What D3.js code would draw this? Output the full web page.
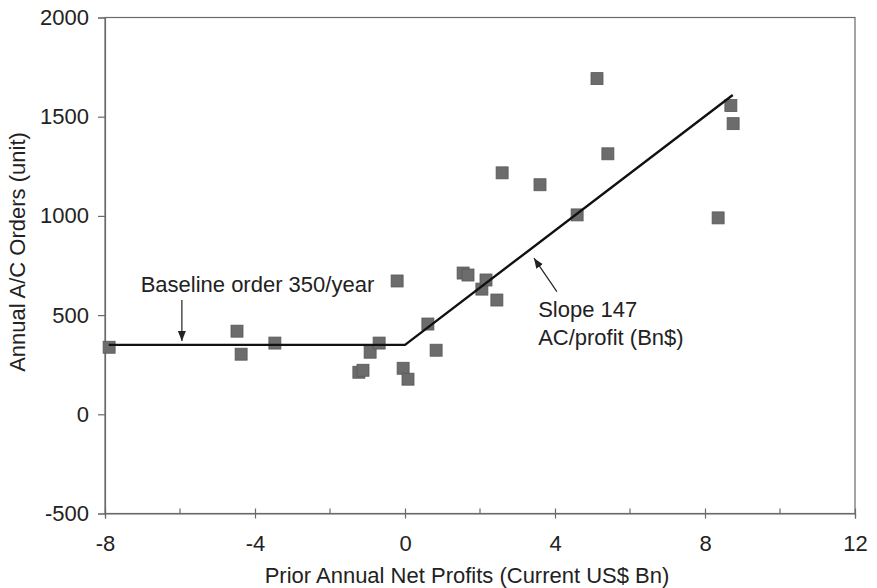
<!DOCTYPE html>
<html><head><meta charset="utf-8">
<script src="https://cdn.jsdelivr.net/npm/d3@7"></script>
<style>
html,body{margin:0;padding:0;background:#fff;}
svg{display:block;font-family:"Liberation Sans",Arial,sans-serif;}
</style></head>
<body>
<svg id="chart" width="877" height="588"></svg>
<script>
// ---- data ----
const profits = [-7.89,-4.48,-4.37,-3.47,-1.23,-1.12,-0.93,-0.69,-0.21,-0.05,0.08,0.61,0.83,1.55,1.68,2.05,2.16,2.45,2.59,3.6,4.59,5.12,5.41,8.35,8.69,8.75];
const orders  = [338,419,303,359,212,222,313,359,672,232,177,455,323,712,702,631,677,576,1217,1157,1005,1692,1313,990,1556,1465];
const fitX = [-7.9, 0, 8.74];
const fitY = [350, 350, 1609];
const xTicks = [-8,-4,0,4,8,12];
const xMinorTicks = [-6,-2,2,6,10];
const yTicks = [-500,0,500,1000,1500,2000];
const xLabel = "Prior Annual Net Profits (Current US$ Bn)";
const yLabel = "Annual A/C Orders (unit)";
const baselineNote = ["Baseline order 350/year"];
const baselineArrow = {x:[-5.95,-5.95], y:[576,369]};
const slopeNote = ["Slope 147","AC/profit (Bn$)"];
const slopeArrow = {x:[4.05,3.44], y:[618,787]};

// ---- layout ----
const mL=105,mR=855,mT=17.5,mB=513.5;
const svg=d3.select("#chart");
const x=d3.scaleLinear().domain([-8,12]).range([mL,mR]);
const y=d3.scaleLinear().domain([-500,2000]).range([mB,mT]);
const axisCol="#6a6a6a", textCol="#222";
const fs=22;
const ff="Liberation Sans, Arial, sans-serif";

svg.append("defs").append("marker")
  .attr("id","ah").attr("viewBox","0 0 10 10").attr("refX",10).attr("refY",5)
  .attr("markerWidth",10).attr("markerHeight",10).attr("markerUnits","userSpaceOnUse")
  .attr("orient","auto")
  .append("path").attr("d","M0,1 L10,5 L0,9 Z").attr("fill","#222");

// frame
svg.append("rect").attr("x",mL).attr("y",mT).attr("width",mR-mL).attr("height",mB-mT)
  .attr("fill","none").attr("stroke",axisCol).attr("stroke-width",1.2);

// y axis
const ya=svg.append("g").attr("transform",`translate(${mL},0)`)
  .call(d3.axisLeft(y).tickValues(yTicks).tickSize(7).tickPadding(9).tickFormat(d=>String(d)));
ya.select(".domain").attr("stroke",axisCol).attr("stroke-width",1.2);
ya.selectAll(".tick line").attr("stroke",axisCol).attr("stroke-width",1.2);
ya.selectAll("text").attr("font-size",fs).attr("fill",textCol).attr("font-family",ff);

// x axis
const xa=svg.append("g").attr("transform",`translate(0,${mB})`)
  .call(d3.axisBottom(x).tickValues(xTicks).tickSize(5).tickPadding(17).tickFormat(d=>String(d)));
xa.select(".domain").attr("stroke",axisCol).attr("stroke-width",1.2);
xa.selectAll(".tick line").attr("stroke",axisCol).attr("stroke-width",1.2).attr("y1",-5).attr("y2",5);
xa.selectAll("text").attr("font-size",fs).attr("fill",textCol).attr("font-family",ff);
svg.append("g").selectAll("line").data(xMinorTicks).join("line")
  .attr("x1",d=>x(d)).attr("x2",d=>x(d)).attr("y1",mB).attr("y2",mB-5)
  .attr("stroke",axisCol).attr("stroke-width",1.2);

// titles
svg.append("text").attr("x",467).attr("y",583).attr("text-anchor","middle")
  .attr("font-size",fs).attr("fill",textCol).text(xLabel);
svg.append("text").attr("transform",`translate(25,252) rotate(-90)`).attr("text-anchor","middle")
  .attr("font-size",fs).attr("fill",textCol).text(yLabel);

// points
const pts=profits.map((p,i)=>({x:p,y:orders[i]}));
const s=12;
svg.append("g").selectAll("rect").data(pts).join("rect")
  .attr("x",d=>x(d.x)-s/2).attr("y",d=>y(d.y)-s/2).attr("width",s).attr("height",s)
  .attr("fill","#6c6c6c").attr("stroke","#585858").attr("stroke-width",0.8);

// fit line
const fit=fitX.map((v,i)=>[v,fitY[i]]);
svg.append("path").datum(fit)
  .attr("d",d3.line().x(d=>x(d[0])).y(d=>y(d[1])))
  .attr("fill","none").attr("stroke","#111").attr("stroke-width",2.4);

// annotations
svg.append("text").attr("x",x(-7.05)).attr("y",y(617)).attr("font-size",fs).attr("fill",textCol).text(baselineNote[0]);
svg.append("line").attr("x1",x(baselineArrow.x[0])).attr("y1",y(baselineArrow.y[0]))
  .attr("x2",x(baselineArrow.x[1])).attr("y2",y(baselineArrow.y[1]))
  .attr("stroke","#222").attr("stroke-width",1.2).attr("marker-end","url(#ah)");
slopeNote.forEach((t,i)=>{
  svg.append("text").attr("x",x(3.55)).attr("y",y(492)+i*28).attr("font-size",fs).attr("fill",textCol).text(t);
});
svg.append("line").attr("x1",x(slopeArrow.x[0])).attr("y1",y(slopeArrow.y[0]))
  .attr("x2",x(slopeArrow.x[1])).attr("y2",y(slopeArrow.y[1]))
  .attr("stroke","#222").attr("stroke-width",1.2).attr("marker-end","url(#ah)");
</script>
</body></html>
